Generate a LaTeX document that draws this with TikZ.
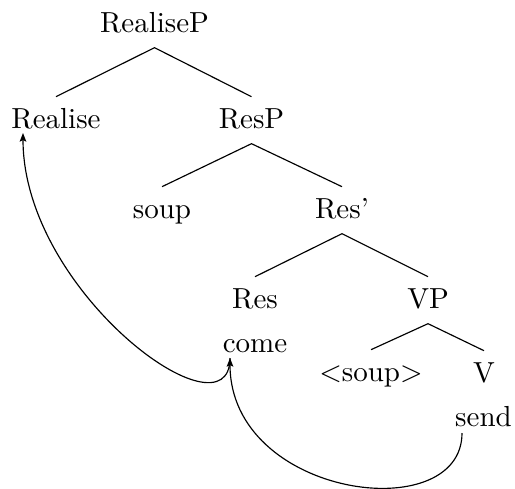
\documentclass[tikz,border=0pt]{standalone}
\usetikzlibrary{arrows.meta}
\begin{document}
\begin{tikzpicture}[x=0.3448pt,y=-0.3448pt,
  lbl/.style={anchor=base,inner sep=0pt,inner ysep=3.6pt,text height=7pt,text depth=1.6pt},
  branch/.style={line width=0.4pt},
  mv/.style={line width=0.4pt,-{Stealth[length=3pt,width=2.3pt,inset=0.6pt]}}]
\useasboundingbox (0,0) rectangle (515,488);
% nodes
\node[lbl] (RealiseP) at (154.5,32) {RealiseP};
\node[lbl] (Realise) at (56,128) {Realise};
\node[lbl] (ResP) at (251.5,128) {ResP};
\node[lbl] (soup) at (162,218) {soup};
\node[lbl] (Resbar) at (342,218) {Res'};
\node[lbl] (Res) at (255,308) {Res};
\node[lbl] (VP) at (428,308) {VP};
\node[lbl] (come) at (255,352) {come};
\node[lbl] (soupt) at (371,381) {$<$soup$>$};
\node[lbl] (V) at (484,382) {V};
\node[lbl] (send) at (483.5,426) {send};
% branches
\draw[branch] (Realise.north) -- (RealiseP.south) -- (ResP.north);
\draw[branch] (soup.north) -- (ResP.south) -- (Resbar.north);
\draw[branch] (Res.north) -- (Resbar.south) -- (VP.north);
\draw[branch] (soupt.north) -- (VP.south) -- (V.north);
% movement arrows
\coordinate (comeFoot) at ([shift={(-25,6)}]come.base);
\coordinate (realiseFoot) at ([shift={(-33,5)}]Realise.base);
\coordinate (sendFoot) at ([shift={(-21.5,7)}]send.base);
\draw[mv] (comeFoot) .. controls +(0,85) and +(0,160) .. (realiseFoot);
\draw[mv] (sendFoot) .. controls +(0,95) and +(0,140) .. (comeFoot);
\end{tikzpicture}
\end{document}
